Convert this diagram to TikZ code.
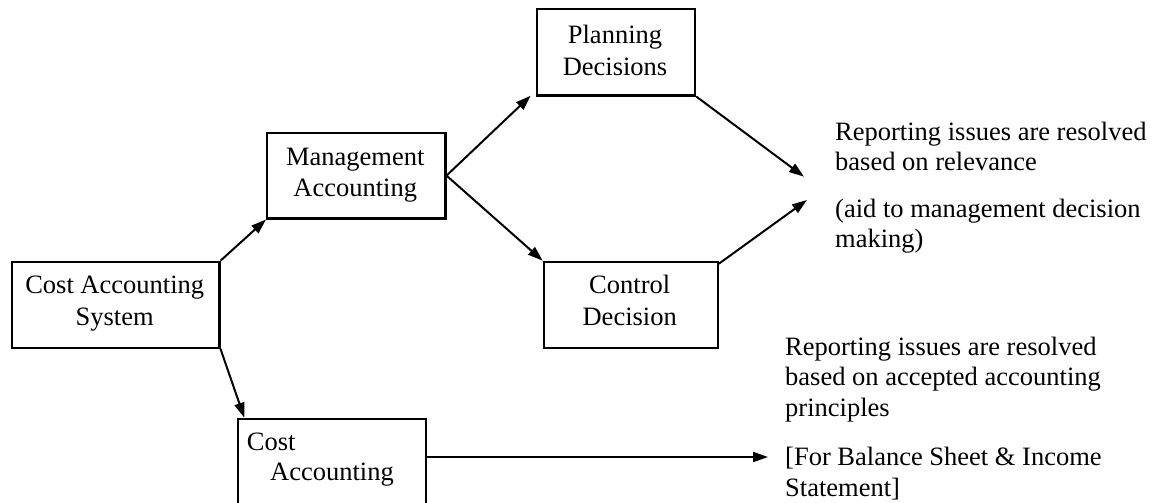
\documentclass[tikz,border=0pt]{standalone}
\usepackage{fontspec}
\setmainfont{Liberation Serif}
\usetikzlibrary{arrows.meta}

% text block whose baseline is that of its first line
\newcommand\txtblock[2]{\begin{tabular}[t]{@{}#1@{}}#2\end{tabular}}

\tikzset{
  box/.style={draw, line width=2.2pt, inner sep=0pt, anchor=north west},
  arr/.style={line width=2pt, -{Triangle[length=15pt,width=10pt]}},
  lbl/.style={inner sep=0pt, font=\fontsize{26.5}{#1}\selectfont},
  lbl/.default=32.5
}

\begin{document}
\begin{tikzpicture}[x=1pt,y=-1pt]
\useasboundingbox (0,0) rectangle (1154,503);
\clip (0,0) rectangle (1154,503);

% boxes
\node[box, minimum width=207.3pt, minimum height=86pt]   (cas)  at (11,260.7)  {};
\node[box, minimum width=178.3pt, minimum height=85.6pt] (mgmt) at (266,131.7)  {};
\node[box, minimum width=158pt,   minimum height=86pt]   (plan) at (536,8.3)    {};
\node[box, minimum width=174pt,   minimum height=86pt]   (ctrl) at (542.7,260.7){};
\node[box, minimum width=188.3pt, minimum height=130pt]  (ca)   at (236.7,417.7){};

% box captions
\node[lbl, anchor=base] (cas-t)  at (114.7,293.3) {\txtblock{c}{Cost Accounting\\System}};
\node[lbl=31.7, anchor=base] (mgmt-t) at (355.2,165) {\txtblock{c}{Management\\Accounting}};
\node[lbl=31.2, anchor=base] (plan-t) at (615,44) {\txtblock{c}{Planning\\Decisions}};
\node[lbl, anchor=base] (ctrl-t) at (629.7,293.3) {\txtblock{c}{Control\\Decision}};
\node[lbl=30.7, anchor=base west] (ca-t) at (246.7,450) {\txtblock{l}{Cost\\\hspace*{23.3pt}Accounting}};

% notes on the right
\node[lbl=30, anchor=base west] (rel-t) at (835,140)
  {\txtblock{l}{Reporting issues are resolved\\based on relevance\\[17pt](aid to management decision\\making)}};
\node[lbl=30.7, anchor=base west] (gaap-t) at (785,355)
  {\txtblock{l}{Reporting issues are resolved\\based on accepted accounting\\principles\\[18.3pt][For Balance Sheet \& Income\\Statement]}};

% arrow end points
\coordinate (ca-in)  at (244.3,417.7);
\coordinate (pd-in)  at (530.7,95.7);
\coordinate (rel-a)  at (804,176.7);
\coordinate (rel-b)  at (807,200);
\coordinate (gaap)   at (768,457);

% connectors
\draw[arr] (cas.north east) -- (mgmt.south west);
\draw[arr] (cas.south east) -- (ca-in);
\draw[arr] (mgmt.east) -- (pd-in);
\draw[arr] (mgmt.east) -- (ctrl.north west);
\draw[arr] (plan.south east) -- (rel-a);
\draw[arr] ([yshift=-3pt]ctrl.north east) -- (rel-b);
\draw[arr] (ca.east |- gaap) -- (gaap);
\end{tikzpicture}
\end{document}
